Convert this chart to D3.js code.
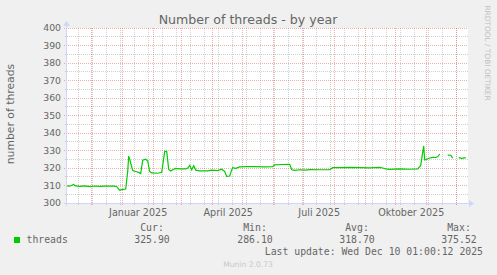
<!DOCTYPE html>
<html><head><meta charset="utf-8">
<script src="https://cdn.jsdelivr.net/npm/d3@7"></script>
<style>
html,body{margin:0;padding:0;background:#F0F0F0;}
svg{display:block;}
text{font-family:"DejaVu Sans",sans-serif;}
.mono{font-family:"DejaVu Sans Mono",monospace;}
</style></head>
<body>
<script>
// ---- data ----
const dates = ["2024-11-06","2024-11-09","2024-11-13","2024-11-14","2024-11-19","2024-11-24","2024-11-29","2024-12-04","2024-12-09","2024-12-14","2024-12-19","2024-12-24","2024-12-26","2024-12-29","2024-12-31","2025-01-04","2025-01-06","2025-01-07","2025-01-08","2025-01-11","2025-01-14","2025-01-17","2025-01-19","2025-01-21","2025-01-24","2025-01-26","2025-01-28","2025-01-30","2025-02-05","2025-02-09","2025-02-12","2025-02-14","2025-02-16","2025-02-18","2025-02-20","2025-02-23","2025-02-27","2025-03-05","2025-03-07","2025-03-09","2025-03-11","2025-03-13","2025-03-15","2025-03-19","2025-03-27","2025-03-31","2025-04-06","2025-04-10","2025-04-13","2025-04-15","2025-04-18","2025-04-20","2025-04-21","2025-04-24","2025-04-28","2025-05-04","2025-05-13","2025-05-23","2025-05-31","2025-06-02","2025-06-09","2025-06-17","2025-06-19","2025-06-22","2025-06-27","2025-07-02","2025-07-07","2025-07-17","2025-07-27","2025-07-30","2025-08-06","2025-08-16","2025-08-26","2025-09-05","2025-09-15","2025-09-18","2025-09-21","2025-09-25","2025-10-05","2025-10-15","2025-10-23","2025-10-26","2025-10-29","2025-10-30","2025-11-01","2025-11-04","2025-11-07","2025-11-10","2025-11-12","2025-11-14","2025-11-18","2025-11-22","2025-11-25","2025-11-27","2025-11-29","2025-12-03","2025-12-06","2025-12-10"];
const threads = [309.8,309.6,310.6,309.9,309.5,309.8,309.4,309.7,309.5,309.6,309.7,309.6,309.3,307.2,307.6,308.0,318.0,326.8,325.0,318.5,318.0,317.5,316.8,324.5,325.0,324.0,318.0,317.2,317.0,317.5,329.5,329.5,319.2,318.3,319.0,319.8,319.5,319.5,320.0,321.5,319.0,321.3,318.8,318.4,318.4,318.8,318.5,319.3,318.0,315.2,315.4,318.9,320.2,319.8,320.6,320.8,320.8,320.6,320.8,321.8,322.0,322.1,319.0,318.7,319.0,318.8,319.1,319.0,319.0,320.2,320.2,320.3,320.2,320.1,320.3,320.0,319.5,319.2,319.5,319.3,319.5,321.5,332.6,324.6,325.0,325.7,326.1,326.0,326.4,328.0,null,327.4,327.3,325.6,null,325.9,325.5,325.9];
const yTicks = [300,310,320,330,340,350,360,370,380,390,400];
const yMinorTicks = [305,315,325,335,345,355,365,375,385,395];
const monthLabels = ["Januar 2025","April 2025","Juli 2025","Oktober 2025"];
const monthLabelDates = ["2025-01-01","2025-04-01","2025-07-01","2025-10-01"];
const legendHeads = ["Cur:","Min:","Avg:","Max:"];
const legendValues = ["325.90","286.10","318.70","375.52"];
const seriesName = "threads";
const title = "Number of threads - by year";
const yTitle = "number of threads";
const lastUpdate = "Last update: Wed Dec 10 01:00:12 2025";
const footer = "Munin 2.0.73";
const watermark = "RRDTOOL / TOBI OETIKER";
const domainStart = "2024-11-06T07:12:00Z";
const domainEnd = "2025-12-11T07:12:00Z";

// ---- layout ----
const W = 497, H = 275;
const L = 67, R = 467, T = 28, B = 203;
const parse = d3.utcParse("%Y-%m-%d");
const x = d3.scaleUtc().domain([new Date(domainStart), new Date(domainEnd)]).range([L, R]);
const y = d3.scaleLinear().domain([300, 400]).range([B, T]);

const svg = d3.select("body").append("svg").attr("width", W).attr("height", H);
svg.append("rect").attr("width", W).attr("height", H).attr("fill", "#F0F0F0");
svg.append("rect").attr("x", L).attr("y", T).attr("width", R - L + 1).attr("height", B - T).attr("fill", "#FFFFFF");

const px = v => Math.floor(v) + 0.5;
const grid = svg.append("g");
const minorCol = "rgba(143,143,143,0.42)", majorCol = "rgba(222,79,79,0.45)";

// vertical minor grid: every two weeks
const [d0, d1] = x.domain();
let minorDates = [];
for (let d = parse("2024-11-18"); d <= d1; d = d3.utcDay.offset(d, 14)) if (d >= d0) minorDates.push(d);
grid.selectAll(".vmin").data(minorDates).join("line")
  .attr("x1", d => px(x(d))).attr("x2", d => px(x(d)))
  .attr("y1", T).attr("y2", B + 2)
  .attr("stroke", minorCol).attr("stroke-dasharray", "1,1");
// horizontal minor grid
grid.selectAll(".hmin").data(yMinorTicks).join("line")
  .attr("x1", L - 2).attr("x2", R + 1)
  .attr("y1", d => px(y(d))).attr("y2", d => px(y(d)))
  .attr("stroke", minorCol).attr("stroke-dasharray", "1,1");
// vertical major grid: month starts
const monthDates = d3.utcMonth.range(d0, d1);
grid.selectAll(".vmaj").data(monthDates).join("line")
  .attr("x1", d => px(x(d))).attr("x2", d => px(x(d)))
  .attr("y1", T).attr("y2", B + 3)
  .attr("stroke", majorCol).attr("stroke-dasharray", "1,1");
// horizontal major grid
grid.selectAll(".hmaj").data(yTicks.filter(v => v > 300)).join("line")
  .attr("x1", L - 3).attr("x2", R + 1)
  .attr("y1", d => px(y(d))).attr("y2", d => px(y(d)))
  .attr("stroke", majorCol).attr("stroke-dasharray", "1,1");

// series line
const pts = dates.map((d, i) => ({ d: parse(d), v: threads[i] }));
const line = d3.line().defined(p => p.v != null).x(p => x(p.d)).y(p => y(p.v));
svg.append("path").datum(pts).attr("d", line)
  .attr("fill", "none").attr("stroke", "#00CC00").attr("stroke-width", 1.2);

// axes
const axisCol = "#CFD6F8";
svg.append("line").attr("x1", L - 3).attr("x2", R + 3).attr("y1", B + 0.5).attr("y2", B + 0.5).attr("stroke", axisCol);
svg.append("line").attr("x1", L - 0.5).attr("x2", L - 0.5).attr("y1", B + 3).attr("y2", T - 4).attr("stroke", axisCol);
svg.append("path").attr("d", `M${R + 2},${B - 3} L${R + 7},${B + 0.5} L${R + 2},${B + 4} Z`).attr("fill", axisCol);
svg.append("path").attr("d", `M${L - 4},${T - 2} L${L - 0.5},${T - 7} L${L + 3},${T - 2} Z`).attr("fill", axisCol);

// y tick labels
svg.append("g").selectAll("text").data(yTicks).join("text")
  .attr("x", L - 6).attr("y", d => y(d)).attr("dy", "0.36em")
  .attr("text-anchor", "end").attr("font-size", 9.3).attr("fill", "#666666")
  .text(d => d);

// x labels (centered mid-month)
svg.append("g").selectAll("text").data(monthLabels).join("text")
  .attr("x", (d, i) => x(d3.utcHour.offset(parse(monthLabelDates[i]), 372)))
  .attr("y", 215.5)
  .attr("text-anchor", "middle").attr("font-size", 9.6).attr("fill", "#666666")
  .text(d => d);

// title
svg.append("text").attr("x", 248).attr("y", 24).attr("text-anchor", "middle")
  .attr("font-size", 12.6).attr("fill", "#666666").text(title);
// y title
svg.append("text").attr("transform", "translate(14,114) rotate(-90)").attr("text-anchor", "middle")
  .attr("font-size", 10.8).attr("fill", "#666666").text(yTitle);
// watermark
svg.append("text").attr("transform", "translate(485,53) rotate(90)").attr("text-anchor", "middle")
  .attr("font-size", 7.4).attr("fill", "#C0C0C0").text(watermark);

// legend
svg.append("rect").attr("x", 14).attr("y", 237).attr("width", 6).attr("height", 6).attr("fill", "#00CC00");
svg.append("text").attr("class", "mono").attr("x", 26.5).attr("y", 242.5)
  .attr("font-size", 9.8).attr("fill", "#666666").text(seriesName);
const colX = [152, 255, 357, 459];
svg.append("g").selectAll("text").data(legendHeads).join("text").attr("class", "mono")
  .attr("x", (d, i) => colX[i]).attr("y", 230.5).attr("text-anchor", "middle")
  .attr("font-size", 9.8).attr("fill", "#666666").text(d => d);
svg.append("g").selectAll("text").data(legendValues).join("text").attr("class", "mono")
  .attr("x", (d, i) => colX[i]).attr("y", 242.5).attr("text-anchor", "middle")
  .attr("font-size", 9.8).attr("fill", "#666666").text(d => d);
svg.append("text").attr("class", "mono").attr("x", 483).attr("y", 254.5).attr("text-anchor", "end")
  .attr("font-size", 9.8).attr("fill", "#666666").text(lastUpdate);
svg.append("text").attr("x", 248).attr("y", 267).attr("text-anchor", "middle")
  .attr("font-size", 7.6).attr("fill", "#C8C8C8").text(footer);
</script>
</body></html>
